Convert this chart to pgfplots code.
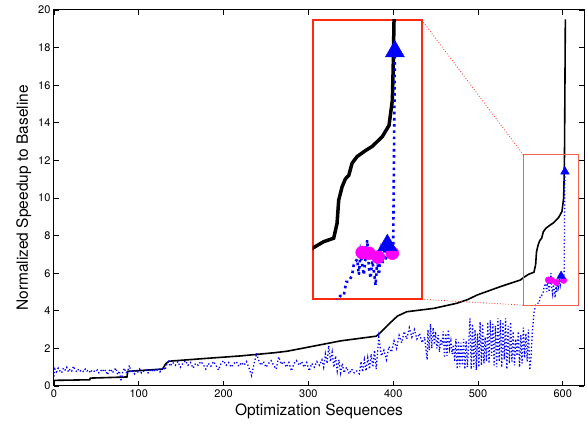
\documentclass[border=0pt]{standalone}
\usepackage{fontspec}
\setmainfont{TeX Gyre Heros}
\usepackage{pgfplots}
\usepackage{pgfplotstable}
\pgfplotsset{compat=1.18}
\definecolor{insetred}{HTML}{FF2A10}
\definecolor{boxred}{HTML}{F2654F}
\definecolor{mag}{HTML}{FF00FF}

% sorted speedup (black)
\pgfplotstableread{
x y
0 0.30
42 0.33
43 0.42
86 0.48
87 0.78
128 0.90
132 1.20
136 1.32
180 1.47
220 1.60
260 1.77
275 1.85
298 2.05
338 2.40
380 2.65
384 2.80
395 3.30
405 3.72
416 3.95
448 4.13
475 4.40
488 4.60
499 4.84
526 5.28
550 5.64
554 5.78
560 5.95
566 6.05
568 6.47
569 7.14
571 7.52
573 7.75
575 7.85
577 8.20
580 8.39
585 8.56
589 8.68
595 8.96
599 9.28
601 10.00
601.5 10.96
602 12.30
603 19.50
}\blackdata

% per-sequence speedup (blue dotted)
\pgfplotstableread{
x y
0 0.5
1 0.9
3 0.75
5 0.95
7 0.8
9 0.7
11 0.95
13 0.85
15 1.0
17 0.75
19 0.9
21 0.8
23 1.05
25 0.85
27 0.75
29 0.9
31 0.8
33 0.85
35 0.75
37 0.9
39 0.8
41 0.85
43 0.7
45 0.85
47 0.8
49 0.75
51 0.85
53 0.7
55 0.8
57 0.9
59 0.75
61 0.85
63 0.6
65 0.8
67 0.9
69 0.7
71 0.85
73 0.95
75 0.6
77 0.8
79 0.25
81 0.75
83 0.95
85 0.7
87 0.8
89 1.1
91 0.7
93 0.8
95 0.65
97 0.85
99 0.75
101 0.9
103 0.7
105 0.8
107 0.75
109 0.85
111 0.7
113 0.8
115 0.9
117 0.75
119 0.85
121 0.8
123 0.95
125 0.75
127 0.9
129 1.0
131 0.85
133 1.15
135 1.3
137 1.05
140 1.25
143 1.1
146 1.3
149 1.0
152 1.2
155 1.35
158 1.1
161 1.25
164 0.95
167 1.2
170 1.1
173 1.3
176 1.15
179 0.9
182 1.2
185 1.05
188 1.3
191 1.1
194 0.85
197 1.2
200 1.35
203 1.1
206 1.25
209 1.0
212 1.2
215 1.3
218 1.05
221 1.25
224 1.1
227 1.3
230 0.95
233 0.55
236 1.2
239 1.75
241 1.4
244 1.1
247 1.3
250 1.0
253 1.2
256 1.35
259 1.1
262 0.9
265 1.55
268 1.15
271 1.3
274 1.0
277 1.25
280 0.8
283 1.2
286 1.35
289 1.1
292 1.3
295 1.0
298 1.25
301 0.8
304 1.2
307 1.0
310 1.3
313 1.1
316 1.4
318 1.0
320 1.7
322 1.2
324 2.15
326 1.3
328 1.8
330 1.0
332 1.6
334 0.8
336 1.4
338 0.7
340 1.2
342 0.7
345 1.0
348 0.65
351 0.9
354 0.7
357 0.8
360 0.65
362 1.3
364 0.75
366 1.4
368 0.8
370 1.5
372 0.9
374 1.7
376 1.0
378 1.9
380 0.9
383 2.6
386 1.6
389 1.9
392 1.4
395 2.1
398 1.8
401 2.4
404 2.0
407 2.7
410 2.3
413 2.9
416 2.5
419 3.1
422 2.6
425 3.0
428 2.5
431 2.8
434 2.3
437 2.6
440 1.4
441 3.0
442.5 1.9
444 3.3
445.5 2.0
447 3.1
448.5 2.2
450 2.9
451.5 2.0
453 2.7
454.5 1.8
456 2.5
457.5 2.2
459 2.9
460.5 1.5
462 2.8
463.5 1.6
465 3.0
466.5 2.0
468 2.4
469.5 1.7
471 2.2
472.5 1.3
474 2.5
475.5 0.9
477 2.4
478.5 1.0
480 2.3
481.5 1.1
483 2.5
484.5 0.9
486 2.4
487.5 1.0
489 2.2
490.5 3.6
492 0.9
493.5 3.3
495 1.0
496.5 3.0
498 0.85
499.5 2.8
501 1.0
502.5 3.4
504 1.1
505.5 3.3
507 1.2
508.5 2.6
510 1.3
511.5 3.4
513 1.2
514.5 3.5
516 1.6
517.5 3.3
519 1.1
520.5 3.2
522 1.0
523.5 3.6
525 1.3
526.5 3.5
528 1.0
529.5 3.4
531 1.4
532.5 3.6
534 0.9
535.5 3.2
537 1.2
538.5 3.4
540 1.3
541.5 2.9
543 1.1
544.5 2.5
546 1.6
547.5 2.9
549 1.0
550.5 2.7
552 1.2
553.5 3.1
555 1.5
556.5 2.8
558 1.3
559.5 3.0
561 0.85
562.5 1.5
564 2.8
566 3.9
568 4.3
570 4.4
572 4.4
573.5 4.8
575 4.8
577 5.0
578 5.3
580 5.45
581 5.0
582 5.6
583 5.3
584 5.0
585 5.5
586 6.0
587 5.2
588 4.9
589 5.4
590 5.1
591 4.7
592 5.4
593 5.0
594 5.6
595 5.3
596 5.7
597 5.4
598 5.8
599 5.5
600 5.7
601.5 5.8
602.5 11.4
}\bluedata

\pgfplotstableread{
x y
583 5.64
587 5.62
592.5 5.51
601 5.62
}\magdata

\pgfplotstableread{
x y
598 5.85
602.5 11.4
}\tridata

\begin{document}
\begin{tikzpicture}
\begin{axis}[
    name=main,
    scale only axis,
    width=530pt,
    height=376pt,
    xmin=0, xmax=625,
    ymin=0, ymax=20,
    xtick={0,100,...,600},
    ytick={0,2,...,20},
    tick pos=both,
    tick align=inside,
    major tick length=5pt,
    every tick/.style={black, line width=0.8pt},
    axis line style={line width=1pt},
    /pgf/number format/assume math mode=true,
    tick label style={font=\fontsize{11}{13}\selectfont},
    label style={font=\fontsize{15.5}{18}\selectfont},
    xlabel={Optimization Sequences},
    ylabel={Normalized Speedup to Baseline},
]
\addplot[black, line width=1.6pt] table {\blackdata};
\addplot[blue, line width=1.3pt, dash pattern=on 1.3pt off 2.2pt] table {\bluedata};
\addplot[only marks, mark=*, mag, mark size=3.2pt] table {\magdata};
\addplot[only marks, mark=triangle*, blue, mark size=5pt] table {\tridata};
\draw[boxred, line width=0.8pt] (axis cs:553.5,4.3) rectangle (axis cs:618.5,12.3);
\coordinate (snw) at (axis cs:553.5,12.3);
\coordinate (ssw) at (axis cs:553.5,4.3);
\end{axis}

\begin{axis}[
    name=inset,
    scale only axis,
    at={(258.7pt,86.7pt)},
    anchor=south west,
    width=109pt,
    height=279.3pt,
    xmin=553.5, xmax=618.5,
    ymin=4.3, ymax=12.3,
    xtick=\empty, ytick=\empty,
    axis line style={draw=insetred, line width=1.8pt},
    axis background/.style={fill=white},
]
\addplot[black, line width=3.5pt] table {\blackdata};
\addplot[blue, line width=2.6pt, dash pattern=on 2.6pt off 3.6pt] table {\bluedata};
\addplot[only marks, mark=*, mag, mark size=6.5pt] table {\magdata};
\addplot[only marks, mark=triangle*, blue, mark size=11pt] table {\tridata};
\end{axis}

\draw[insetred, dotted, line width=0.8pt] (inset.north east) -- (snw);
\draw[insetred, dotted, line width=0.8pt] (inset.south east) -- (ssw);
\path ([shift={(-54pt,-42pt)}]main.south west) rectangle ([shift={(3pt,10pt)}]main.north east);
\end{tikzpicture}
\end{document}
